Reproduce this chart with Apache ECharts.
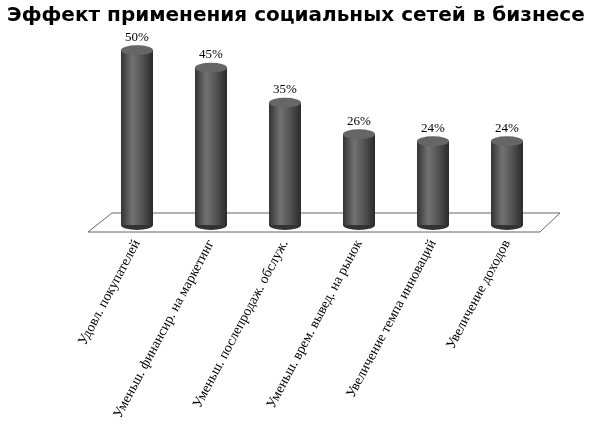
<!DOCTYPE html>
<html><head><meta charset="utf-8">
<script src="https://cdn.jsdelivr.net/npm/echarts@6/dist/echarts.min.js"></script>
<style>html,body{margin:0;background:#fff}#c{width:609px;height:437px}</style>
</head><body><div id="c"></div>
<script>
var categories = ['Удовл. покупателей','Уменьш. финансир. на маркетинг','Уменьш. послепродаж. обслуж.','Уменьш. врем. вывед. на рынок','Увеличение темпа инноваций','Увеличение доходов'];
var values = [50, 45, 35, 26, 24, 24];

var chart = echarts.init(document.getElementById('c'));
var body = {type:'linear',x:0,y:0,x2:1,y2:0,colorStops:[
    {offset:0,color:'#333'},{offset:0.35,color:'#727272'},{offset:0.6,color:'#5a5a5a'},{offset:1,color:'#2a2a2a'}]};
var option = {
    backgroundColor:'#fff',
    title:{text:'Эффект применения социальных сетей в бизнесе',left:2,top:1,
        textStyle:{fontFamily:'DejaVu Sans',fontSize:20,fontWeight:'bold',color:'#000'}},
    graphic:[{type:'polygon',z:0,shape:{points:[[112,213],[560,213],[540,232],[88,232]]},
        style:{fill:'#fff',stroke:'#666',lineWidth:1}}],
    grid:{left:100,right:65,top:50,bottom:212},
    xAxis:{type:'category',data:categories,axisLine:{show:false},axisTick:{show:false},
        axisLabel:{rotate:62,margin:16,fontFamily:'Liberation Serif',fontSize:14,color:'#000',interval:0}},
    yAxis:{type:'value',min:0,max:50,show:false},
    series:[
        {type:'bar',data:values,barWidth:32,z:3,itemStyle:{color:body},
         label:{show:true,position:'top',distance:6,formatter:'{c}%',fontFamily:'Liberation Serif',fontSize:13,color:'#000'}},
        {type:'pictorialBar',data:values,symbol:'circle',symbolSize:[32,10],symbolPosition:'end',
         symbolOffset:[0,-5],z:4,itemStyle:{color:'#666',borderColor:'#3a3a3a',borderWidth:1}},
        {type:'pictorialBar',data:values,symbol:'circle',symbolSize:[32,10],symbolPosition:'start',
         symbolOffset:[0,5],z:2,itemStyle:{color:'#333'}}
    ]
};
chart.setOption(option);
</script></body></html>
